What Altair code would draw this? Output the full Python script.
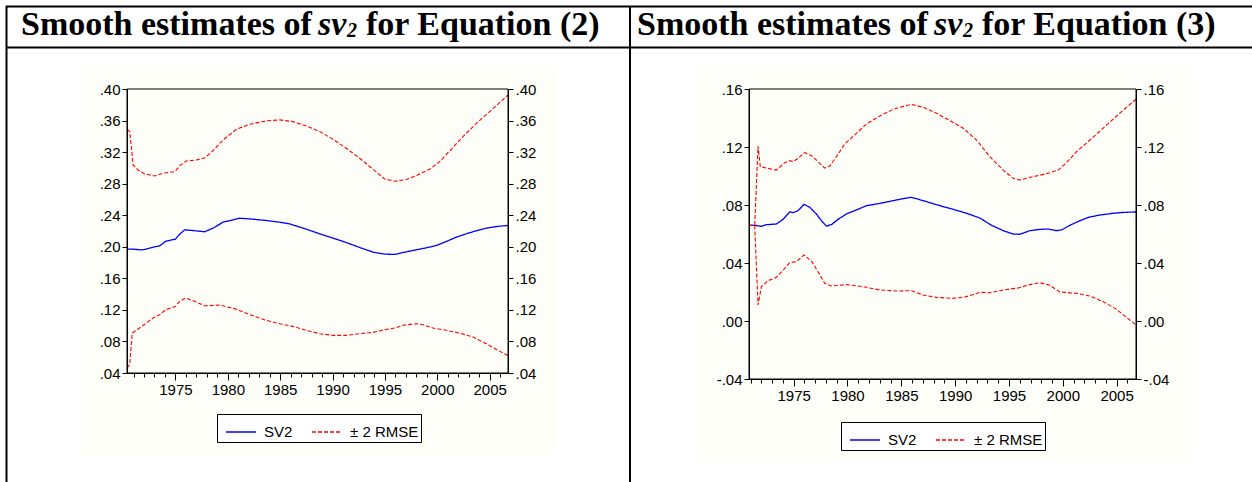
import altair as alt
import pandas as pd

# ---------------- data: Equation (2) ----------------
p1_sv2_year = [1970.375, 1970.95, 1971.74, 1972.22, 1973.02, 1973.49, 1974.07, 1975.0, 1975.40, 1975.88,
               1976.68, 1977.79, 1978.59, 1979.54, 1980.50, 1981.13, 1982.40, 1983.68, 1984.95, 1985.91,
               1987.50, 1988.77, 1990.04, 1991.31, 1992.59, 1993.86, 1994.97, 1995.93, 1997.04, 1997.98,
               1998.95, 1999.91, 2000.86, 2001.82, 2002.93, 2004.04, 2005.0, 2005.95, 2006.75]
p1_sv2 = [0.197, 0.197, 0.196, 0.197, 0.200, 0.201, 0.207, 0.2097, 0.216, 0.2215,
          0.2206, 0.219, 0.2236, 0.2312, 0.2341, 0.2362, 0.235, 0.2333, 0.2312, 0.229,
          0.2223, 0.2164, 0.211, 0.2054, 0.1991, 0.1932, 0.1907, 0.1903, 0.1936, 0.1961,
          0.1987, 0.2016, 0.2067, 0.2122, 0.2172, 0.2215, 0.2244, 0.2261, 0.227]
p1_up_year = [1970.375, 1970.63, 1970.79, 1970.95, 1971.43, 1972.06, 1973.02, 1973.81, 1974.93, 1975.40,
              1976.04, 1976.99, 1977.79, 1978.59, 1979.54, 1980.81, 1982.09, 1983.68, 1984.95, 1986.22,
              1987.50, 1988.77, 1990.04, 1991.31, 1992.59, 1993.86, 1994.97, 1995.93, 1997.04, 1997.98,
              1999.27, 2000.23, 2001.18, 2002.45, 2003.73, 2005.0, 2005.95, 2006.75]
p1_up = [0.3489, 0.346, 0.327, 0.3038, 0.2974, 0.2924, 0.2898, 0.2932, 0.2953, 0.3025,
         0.3088, 0.3101, 0.3126, 0.3219, 0.3354, 0.3489, 0.3553, 0.3595, 0.3608, 0.3586,
         0.3532, 0.346, 0.3363, 0.3249, 0.3122, 0.2983, 0.286, 0.2831, 0.2852, 0.2903,
         0.2983, 0.308, 0.3215, 0.3396, 0.3565, 0.3713, 0.3827, 0.3924]
p1_lo_year = [1970.375, 1970.63, 1970.88, 1971.43, 1972.22, 1972.86, 1973.49, 1974.07, 1975.0, 1975.40,
              1975.98, 1976.84, 1977.79, 1979.22, 1980.81, 1982.09, 1983.68, 1984.95, 1986.22, 1987.50,
              1988.77, 1990.04, 1991.31, 1992.59, 1993.86, 1994.97, 1995.93, 1996.88, 1997.98, 1998.63,
              1999.59, 2000.86, 2002.14, 2003.41, 2004.68, 2005.8, 2006.75]
p1_lo = [0.0463, 0.0506, 0.0906, 0.0957, 0.1033, 0.1097, 0.1139, 0.1202, 0.1244, 0.1308,
         0.135, 0.1308, 0.1253, 0.1261, 0.121, 0.1139, 0.1067, 0.1025, 0.0991, 0.0941,
         0.0898, 0.0877, 0.0877, 0.0898, 0.0915, 0.0949, 0.097, 0.1008, 0.1025, 0.1012,
         0.097, 0.0941, 0.0906, 0.0856, 0.0771, 0.0687, 0.062]

# ---------------- data: Equation (3) ----------------
p2_sv2_year = [1970.85, 1971.38, 1972.0, 1972.46, 1973.39, 1974.01, 1974.63, 1974.94, 1975.41, 1975.96,
               1976.49, 1977.11, 1977.57, 1978.04, 1978.50, 1979.12, 1979.90, 1980.83, 1981.76, 1983.0,
               1984.24, 1985.17, 1985.94, 1987.03, 1988.27, 1989.82, 1991.06, 1992.30, 1993.38, 1994.46,
               1995.39, 1996.01, 1996.94, 1997.87, 1998.65, 1999.42, 1999.89, 2000.66, 2001.44, 2002.37,
               2003.45, 2004.69, 2005.62, 2006.80]
p2_sv2 = [0.066, 0.066, 0.0653, 0.0664, 0.0669, 0.0701, 0.0752, 0.0747, 0.0761, 0.0805,
          0.0784, 0.0738, 0.0692, 0.0655, 0.0664, 0.0701, 0.0738, 0.0766, 0.0795, 0.0811,
          0.083, 0.0844, 0.0853, 0.083, 0.0802, 0.077, 0.0743, 0.071, 0.066, 0.0623,
          0.060, 0.0598, 0.0623, 0.0632, 0.0634, 0.0623, 0.0628, 0.066, 0.0687, 0.0715,
          0.0731, 0.0743, 0.0749, 0.0752]
p2_up_year = [1970.85, 1971.38, 1971.69, 1971.90, 1972.46, 1973.39, 1974.17, 1974.63, 1974.94, 1975.41,
              1976.03, 1976.70, 1977.26, 1977.88, 1978.35, 1978.97, 1979.74, 1980.83, 1981.76, 1983.0,
              1984.24, 1985.17, 1985.94, 1987.03, 1988.27, 1989.51, 1990.75, 1991.99, 1993.22, 1994.46,
              1995.39, 1996.01, 1996.94, 1997.87, 1998.80, 1999.58, 2000.35, 2001.28, 2002.52, 2004.07,
              2005.62, 2006.80]
p2_up = [0.066, 0.066, 0.1207, 0.1064, 0.1055, 0.1041, 0.1092, 0.1106, 0.1099, 0.1122,
         0.1161, 0.1138, 0.1099, 0.1055, 0.1069, 0.1133, 0.1221, 0.1294, 0.1359, 0.1414,
         0.146, 0.148, 0.1494, 0.1474, 0.1432, 0.1382, 0.1329, 0.1248, 0.1133, 0.1041,
         0.0984, 0.0972, 0.0991, 0.1005, 0.1023, 0.1041, 0.1092, 0.1168, 0.1248, 0.1352,
         0.1455, 0.1529]
p2_lo_year = [1970.85, 1971.38, 1971.69, 1972.0, 1972.62, 1973.39, 1974.17, 1974.63, 1975.25, 1975.96,
              1976.70, 1977.26, 1977.88, 1978.50, 1979.90, 1981.45, 1983.0, 1984.55, 1985.94, 1987.03,
              1988.27, 1989.82, 1991.06, 1992.30, 1993.22, 1994.46, 1995.86, 1996.94, 1997.87, 1998.80,
              1999.73, 2001.28, 2002.52, 2003.76, 2005.0, 2006.80]
p2_lo = [0.066, 0.066, 0.011, 0.0237, 0.0278, 0.0301, 0.0363, 0.0402, 0.0409, 0.0455,
         0.0409, 0.034, 0.026, 0.0241, 0.0251, 0.0237, 0.0214, 0.0207, 0.0209, 0.0179,
         0.0163, 0.0156, 0.0168, 0.0198, 0.0195, 0.0214, 0.0228, 0.0251, 0.0264, 0.0246,
         0.020, 0.0191, 0.0172, 0.0133, 0.008, -0.0028]

p1_yticks = [0.04, 0.08, 0.12, 0.16, 0.20, 0.24, 0.28, 0.32, 0.36, 0.40]
p2_yticks = [-0.04, 0.00, 0.04, 0.08, 0.12, 0.16]
major_years = [1975, 1980, 1985, 1990, 1995, 2000, 2005]
minor_years = list(range(1971, 2007))
series_labels = ["SV2", "± 2 RMSE"]
titles = ["Smooth estimates of ", "sv", "2", "for Equation (2)", "for Equation (3)"]

W, H = 1252, 482
LABEL_FONT = "Liberation Sans"
YLAB = "(datum.value < 0 ? '-' : '') + replace(format(abs(datum.value), '.2f'), '0.', '.')"


def long_df(years, vals, series, label):
    return pd.DataFrame({"year": years, "value": vals, "series": series, "label": label})


def panel(sv_y, sv, up_y, up, lo_y, lo, xdom, xr, ydom, yr, yticks, legxy):
    df_sv = long_df(sv_y, sv, "SV2", series_labels[0])
    df_band = pd.concat([long_df(up_y, up, "upper", series_labels[1]),
                         long_df(lo_y, lo, "lower", series_labels[1])])
    xs = alt.Scale(domain=xdom, range=xr, nice=False, zero=False)
    ys = alt.Scale(domain=ydom, range=yr, nice=False, zero=False)
    cs = alt.Scale(domain=series_labels, range=["#0000FF", "#FF0000"])
    ds = alt.Scale(domain=series_labels, range=[[1, 0], [4, 2]])
    leg = alt.Legend(orient="none", legendX=legxy[0], legendY=legxy[1], direction="horizontal",
                     title=None, strokeColor="black", padding=2, symbolOffset=6,
                     symbolType="stroke", symbolSize=900, symbolStrokeWidth=1.3,
                     labelFont=LABEL_FONT, labelFontSize=15, labelColor="black",
                     labelOffset=7, columnPadding=12, fillColor="white", zindex=2)
    off_bottom = yr[0] - H
    common = dict(labelFont=LABEL_FONT, labelFontSize=15, labelColor="black", tickColor="black",
                  domainColor="black", grid=False, title=None, labelFlush=False,
                  labelOverlap=False, labelBound=False, zindex=2)
    x_major = alt.Axis(orient="bottom", values=major_years, format="d", tickSize=7,
                       labelPadding=2, offset=off_bottom, **common)
    x_minor = alt.Axis(orient="bottom", values=minor_years, labels=False, tickSize=4,
                       offset=off_bottom, domain=False, grid=False, title=None,
                       tickColor="black", zindex=2)
    y_left = alt.Axis(orient="left", values=yticks, labelExpr=YLAB, tickSize=5, labelPadding=2,
                      offset=-xr[0], **common)
    y_right = alt.Axis(orient="right", values=yticks, labelExpr=YLAB, tickSize=5, labelPadding=2,
                       offset=xr[1] - W, **common)

    blue = alt.Chart(df_sv).mark_line(strokeWidth=1.3).encode(
        x=alt.X("year:Q", scale=xs, axis=x_major),
        y=alt.Y("value:Q", scale=ys, axis=y_left),
        color=alt.Color("label:N", scale=cs, legend=leg),
        strokeDash=alt.StrokeDash("label:N", scale=ds, legend=leg),
    )
    red = alt.Chart(df_band).mark_line(strokeWidth=1.1).encode(
        x=alt.X("year:Q", axis=None),
        y=alt.Y("value:Q", axis=None),
        color=alt.Color("label:N", scale=cs, legend=leg),
        strokeDash=alt.StrokeDash("label:N", scale=ds, legend=leg),
        detail="series:N",
    )
    frame = alt.Chart(pd.DataFrame({"a": [0]})).mark_rect(
        fillOpacity=0, stroke="black", strokeWidth=1).encode(
        x=alt.XDatum(xdom[0], type="quantitative", axis=x_minor),
        x2=alt.X2Datum(xdom[1]),
        y=alt.YDatum(ydom[1], type="quantitative", axis=y_right),
        y2=alt.Y2Datum(ydom[0]),
    )
    return alt.layer(blue, red, frame).resolve_axis(x="independent", y="independent")


one = pd.DataFrame({"a": [0]})

bg1 = alt.Chart(one).mark_rect(color="#FEFEF8").encode(
    x=alt.value(80), x2=alt.value(555), y=alt.value(65), y2=alt.value(455))
bg2 = alt.Chart(one).mark_rect(color="#FEFEF8").encode(
    x=alt.value(697), x2=alt.value(1194), y=alt.value(65), y2=alt.value(462))

p1 = panel(p1_sv2_year, p1_sv2, p1_up_year, p1_up, p1_lo_year, p1_lo,
           [1970.375, 2006.75], [127, 508], [0.04, 0.40], [373, 89], p1_yticks, (217, 414))
p2 = panel(p2_sv2_year, p2_sv2, p2_up_year, p2_up, p2_lo_year, p2_lo,
           [1970.85, 2006.8], [749, 1136], [-0.04, 0.16], [379, 89], p2_yticks, (841, 422))

def hrule(x1, x2, y):
    return alt.Chart(one).mark_rule(color="black", strokeWidth=2).encode(
        x=alt.value(x1), x2=alt.value(x2), y=alt.value(y))

def vrule(x, y1, y2):
    return alt.Chart(one).mark_rule(color="black", strokeWidth=2).encode(
        x=alt.value(x), y=alt.value(y1), y2=alt.value(y2))

rules = [hrule(6, W, 6.5), hrule(6, W, 47.5), vrule(6.5, 6, H), vrule(630, 6, H)]

def txt(s, x, y, size, italic=False):
    return alt.Chart(one).mark_text(
        text=s, align="left", baseline="alphabetic", font="Liberation Serif",
        fontSize=size, fontWeight="bold", fontStyle="italic" if italic else "normal",
        color="black").encode(x=alt.value(x), y=alt.value(y))

texts = []
for dx, last in [(0, titles[3]), (616, titles[4])]:
    texts += [txt(titles[0], 21 + dx, 35, 34),
              txt(titles[1], 318 + dx, 35, 34, italic=True),
              txt(titles[2], 347 + dx, 37, 20, italic=True),
              txt(last, 366 + dx, 35, 34)]

chart = alt.layer(bg1, bg2, p1, p2, *rules, *texts).resolve_scale(
    x="independent", y="independent", color="independent", strokeDash="independent"
).properties(
    width=W, height=H, padding=0, autosize=alt.AutoSizeParams(type="none"),
    background="white"
).configure_view(stroke=None)

chart.save("out.html", embed_options={"renderer": "svg", "actions": False})
